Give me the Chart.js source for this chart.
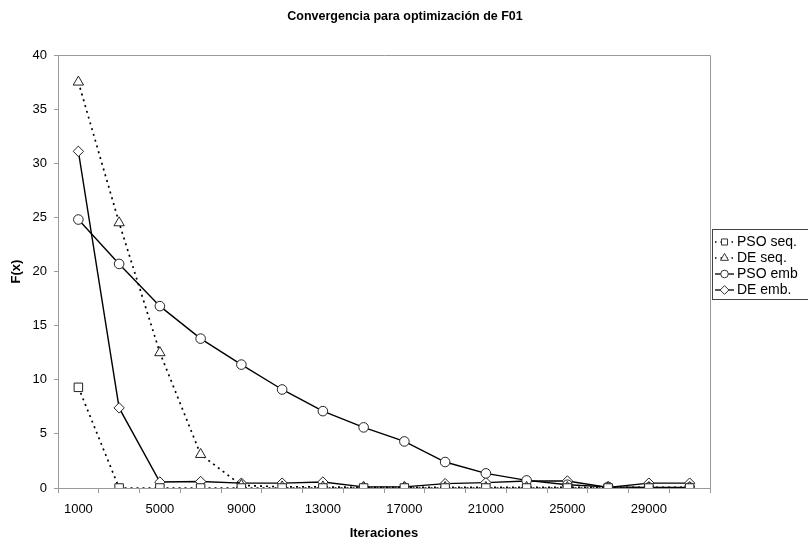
<!DOCTYPE html>
<html lang="es">
<head>
    <meta charset="UTF-8">
    <title>Convergencia para optimización de F01</title>
    <script src="https://cdn.jsdelivr.net/npm/chart.js"></script>
    <style>
        body {
            margin: 0;
            background: #ffffff;
        }
        #chart {
            display: block;
        }
    </style>
</head>
<body>
    <canvas id="chart" width="808" height="542"></canvas>

    <script>
        // Values
        const iteraciones = [1000, 3000, 5000, 7000, 9000, 11000, 13000, 15000,
                             17000, 19000, 21000, 23000, 25000, 27000, 29000, 31000];
        const psoSeq = [9.3, 0, 0, 0, 0, 0, 0, 0, 0, 0, 0, 0, 0, 0, 0, 0];
        const deSeq  = [37.5, 24.5, 12.5, 3.1, 0.25, 0.1, 0.1, 0.05, 0.05, 0.05, 0.05, 0.05, 0.05, 0.05, 0.05, 0.05];
        const psoEmb = [24.8, 20.7, 16.8, 13.8, 11.4, 9.1, 7.1, 5.6, 4.3, 2.4, 1.35, 0.7, 0.3, 0.1, 0.05, 0.05];
        const deEmb  = [31.1, 7.4, 0.55, 0.6, 0.45, 0.45, 0.55, 0.1, 0.1, 0.4, 0.5, 0.65, 0.65, 0.05, 0.45, 0.45];
        const yTicks = [0, 5, 10, 15, 20, 25, 30, 35, 40];
        const titulo = 'Convergencia para optimización de F01';

        const AXIS_GRAY = '#9a9a9a';
        const FONT = 'Arial, "Liberation Sans", sans-serif';

        const markerSize = { rect: 6, triangle: 6, circle: 4.8, rectRot: 5.2 };
        const legendSize = { rect: 4.3, triangle: 4.6, circle: 3.8, rectRot: 4.4 };

        function serie(label, data, style, dashed) {
            return {
                label: label,
                data: data,
                borderColor: '#000',
                borderWidth: dashed ? 1.7 : 1.4,
                borderDash: dashed ? [2, 4] : [],
                pointStyle: style,
                pointRadius: markerSize[style],
                pointBackgroundColor: '#fff',
                pointBorderColor: '#222',
                pointBorderWidth: 1,
                tension: 0,
                fill: false
            };
        }

        const datasets = [
            serie('PSO seq.', psoSeq, 'rect', true),
            serie('DE seq.', deSeq, 'triangle', true),
            serie('PSO emb', psoEmb, 'circle', false),
            serie('DE emb.', deEmb, 'rectRot', false)
        ];

        // title over the whole canvas + top and right frame of the plot area
        const frame = {
            id: 'frame',
            afterDraw(chart) {
                const a = chart.chartArea;
                const ctx = chart.ctx;
                ctx.save();
                ctx.strokeStyle = AXIS_GRAY;
                ctx.lineWidth = 1;
                ctx.beginPath();
                ctx.moveTo(a.left, a.top + 0.5);
                ctx.lineTo(a.right + 0.5, a.top + 0.5);
                ctx.lineTo(a.right + 0.5, a.bottom);
                ctx.stroke();

                ctx.fillStyle = '#000';
                ctx.font = 'bold 12.5px ' + FONT;
                ctx.textAlign = 'center';
                ctx.textBaseline = 'middle';
                ctx.fillText(titulo, 405, 17);
                ctx.restore();
            }
        };

        // legend box on the right, cut off by the edge like the original
        const boxLegend = {
            id: 'boxLegend',
            afterDraw(chart) {
                const ctx = chart.ctx;
                const x0 = 712, y0 = 229, y1 = 299;
                ctx.save();
                ctx.fillStyle = '#fff';
                ctx.fillRect(x0, y0, 808 - x0, y1 - y0);
                ctx.strokeStyle = '#444';
                ctx.lineWidth = 1;
                ctx.strokeRect(x0 + 0.5, y0 + 0.5, 808 - x0 + 5, y1 - y0);

                chart.data.datasets.forEach((ds, i) => {
                    const y = 242 + i * 16;
                    ctx.strokeStyle = '#000';
                    ctx.lineWidth = 1.3;
                    ctx.setLineDash(ds.borderDash.length ? [1.5, 4] : []);
                    ctx.beginPath();
                    ctx.moveTo(715, y);
                    ctx.lineTo(734, y);
                    ctx.stroke();
                    ctx.setLineDash([]);
                    ctx.fillStyle = '#fff';
                    ctx.strokeStyle = '#333';
                    ctx.lineWidth = 1;
                    Chart.helpers.drawPoint(ctx, {
                        pointStyle: ds.pointStyle,
                        radius: legendSize[ds.pointStyle],
                        borderWidth: 1,
                        rotation: 0
                    }, 724.5, y);
                    ctx.fillStyle = '#000';
                    ctx.font = '14px ' + FONT;
                    ctx.textBaseline = 'middle';
                    ctx.textAlign = 'left';
                    ctx.fillText(ds.label, 737, y + 0.5);
                });
                ctx.restore();
            }
        };

        new Chart(document.getElementById('chart'), {
            type: 'line',
            data: {
                labels: iteraciones,
                datasets: datasets
            },
            options: {
                responsive: false,
                animation: false,
                layout: {
                    padding: { top: 55, right: 98, bottom: 0, left: 0 }
                },
                plugins: {
                    legend: { display: false },
                    tooltip: { enabled: false },
                    title: { display: false }
                },
                scales: {
                    x: {
                        offset: true,
                        grid: {
                            offset: true,
                            drawOnChartArea: false,
                            drawTicks: true,
                            tickLength: 5,
                            color: AXIS_GRAY
                        },
                        border: { color: AXIS_GRAY, width: 1 },
                        ticks: {
                            autoSkip: false,
                            maxRotation: 0,
                            padding: 9,
                            color: '#000',
                            font: { family: FONT, size: 13 },
                            callback: function (v, i) {
                                return i % 2 === 0 ? this.getLabelForValue(v) : '';
                            }
                        },
                        title: {
                            display: true,
                            text: 'Iteraciones',
                            color: '#000',
                            font: { family: FONT, size: 13, weight: 'bold' },
                            padding: { top: 0, bottom: 1 }
                        },
                        afterFit(scale) { scale.height = 54; }
                    },
                    y: {
                        min: 0,
                        max: 40,
                        afterBuildTicks(scale) {
                            scale.ticks = yTicks.map(v => ({ value: v }));
                        },
                        grid: {
                            drawOnChartArea: false,
                            drawTicks: true,
                            tickLength: 4,
                            color: AXIS_GRAY
                        },
                        border: { color: AXIS_GRAY, width: 1 },
                        ticks: {
                            padding: 7,
                            color: '#000',
                            font: { family: FONT, size: 13 }
                        },
                        title: {
                            display: true,
                            text: 'F(x)',
                            color: '#000',
                            font: { family: FONT, size: 13, weight: 'bold' },
                            padding: { top: 9, bottom: 0 }
                        },
                        afterFit(scale) { scale.width = 58; }
                    }
                }
            },
            plugins: [frame, boxLegend]
        });
    </script>
</body>
</html>
